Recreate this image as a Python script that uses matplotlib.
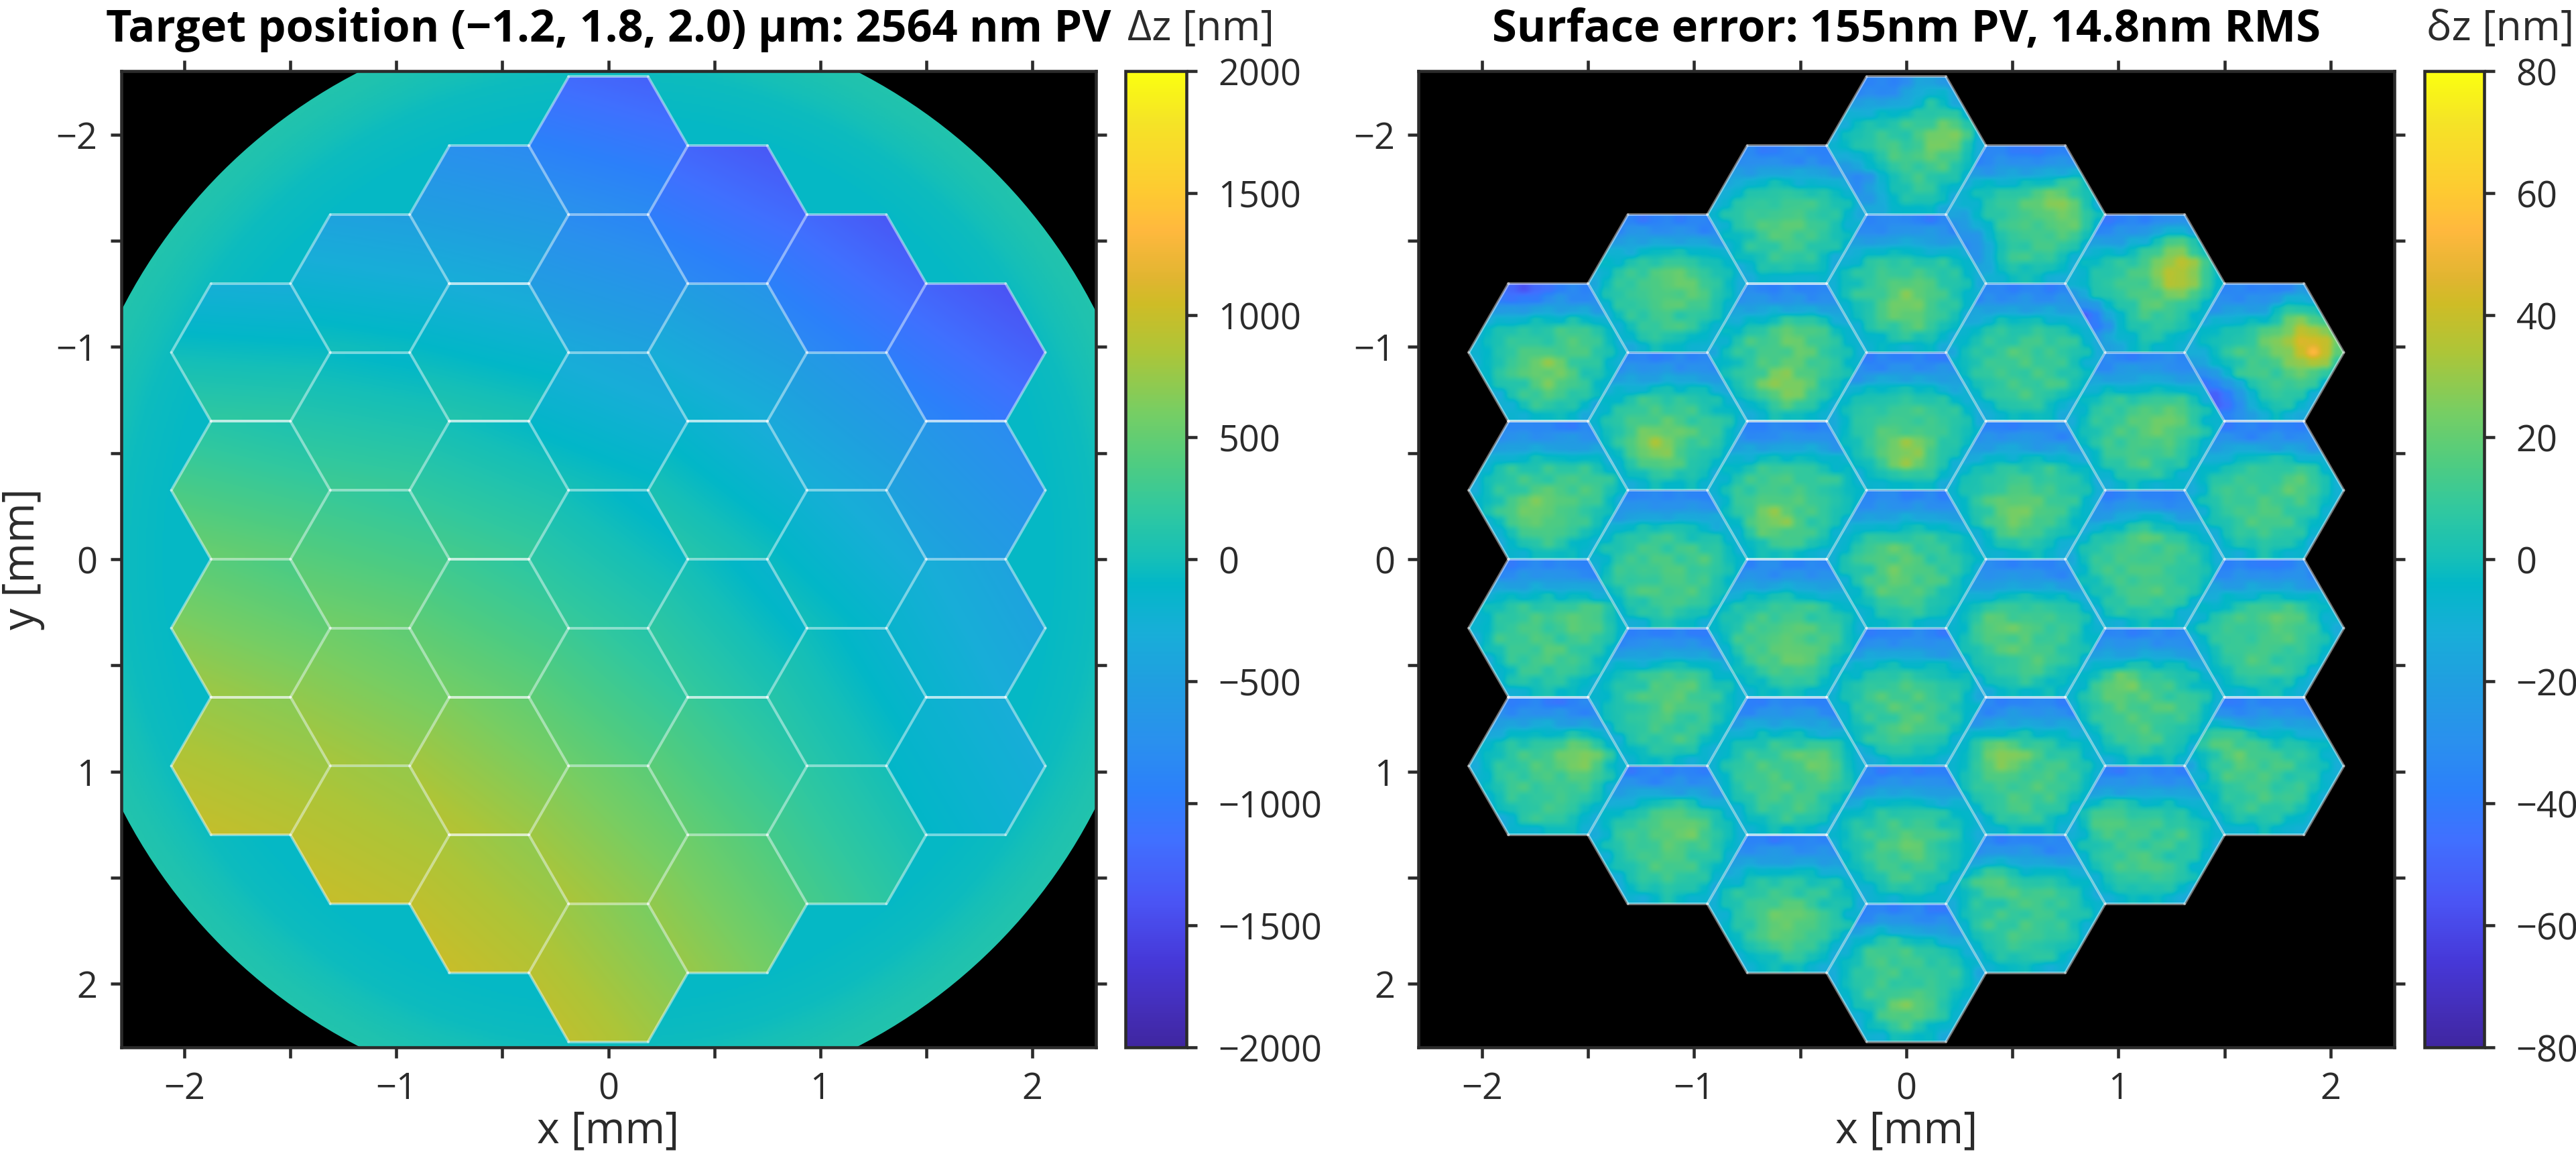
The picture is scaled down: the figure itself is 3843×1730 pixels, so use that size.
import numpy as np
import matplotlib
matplotlib.use("Agg")
import matplotlib.pyplot as plt
from matplotlib.cm import ScalarMappable
from matplotlib.collections import LineCollection
from matplotlib.colors import LinearSegmentedColormap, Normalize
from matplotlib.patches import Circle, Polygon

plt.rcParams['font.family'] = ['Open Sans', 'DejaVu Sans']

# colour bar, (value in -2000..2000, colour)
cmap_values = [-2000, -1850, -1650, -1400, -1150, -950, -750, -500, -300, -100, 0,
               200, 400, 600, 850, 1050, 1150, 1350, 1500, 1800, 2000]
cmap_colors = ['#3f26a0', '#442eb8', '#4638d8', '#4a55f5', '#4070ff', '#2c80fa', '#2a90ee',
               '#209fe0', '#18aed8', '#02b7c8', '#15bfb8', '#30c8a0', '#50cc80', '#76ce64',
               '#adc538', '#cfbc26', '#e0b530', '#ffb83e', '#fec932', '#f5e426', '#fbff10']

# segment layout, columns left to right, rows top to bottom
columns = [-3, -2, -1, 0, 1, 2, 3]
rows_in_column = [4, 5, 6, 7, 6, 5, 4]
hex_a = 0.375  # centre to vertex, mm
hex_h = 0.6495  # flat to flat, mm

# left panel: centre value [nm] and tilt [nm/mm] of each segment
left_centre = [-50, 300, 570, 830,
               -250, 80, 380, 650, 870,
               -550, -130, 120, 380, 700, 860,
               -1000, -620, -200, 50, 330, 650, 780,
               -1100, -420, -100, 30, 300, 570,
               -1100, -500, -200, -30, 170,
               -1150, -600, -300, -200]
left_gy = [700, 600, 500, 350,
           650, 550, 500, 400, 280,
           650, 600, 500, 450, 400, 280,
           700, 650, 500, 400, 400, 350, 280,
           600, 550, 450, 350, 350, 300,
           550, 450, 350, 250, 250,
           550, 350, 200, 150]
left_gx = [-50, -150, -200, -150,
           -100, -100, -150, -200, -150,
           -150, -150, -200, -250, -300, -250,
           -200, -200, -200, -300, -350, -350, -350,
           -300, -300, -350, -400, -400, -400,
           -400, -350, -350, -400, -400,
           -400, -350, -350, -250]

# left panel: ring around the segments, by radius
ring_r = [0.0, 2.1, 2.3, 2.4, 2.5, 2.6]
ring_z = [-80, -80, -40, 15, 70, 100]
ring_radius = 2.58

# right panel: shape shared by all segments, 13x13 over the segment box [nm]
shape_rows = [
    [-38, -38, -38, -38, -38, -38, -38, -38, -38, -38, -38, -38, -38],
    [-36, -36, -34, -33, -32, -31, -30, -31, -32, -33, -34, -36, -36],
    [-26, -25, -24, -22, -20, -19, -19, -19, -20, -22, -24, -25, -26],
    [-16, -14, -12, -9, -6, -5, -4, -5, -6, -9, -12, -14, -16],
    [-12, -8, -3, 2, 4, 5, 6, 5, 4, 2, -3, -8, -12],
    [-12, -5, 2, 6, 8, 9, 9, 9, 8, 6, 2, -5, -12],
    [-12, -3, 4, 7, 9, 10, 10, 10, 9, 7, 4, -3, -12],
    [-12, -4, 4, 7, 9, 10, 11, 10, 9, 7, 4, -4, -12],
    [-13, -6, 2, 7, 9, 10, 11, 10, 9, 7, 2, -6, -13],
    [-14, -10, -2, 5, 8, 10, 11, 10, 8, 5, -2, -10, -14],
    [-16, -14, -8, 1, 6, 8, 9, 8, 6, 1, -8, -14, -16],
    [-18, -17, -13, -6, 0, 3, 5, 3, 0, -6, -13, -17, -18],
    [-20, -20, -17, -12, -8, -5, -4, -5, -8, -12, -17, -20, -20],
]
# small blotches laid over the shape
blotch_rows = [
    [2, -3, 4, 1, -4, 3, -2, 5, -1, -4, 2, 4, -3],
    [-4, 5, -1, -5, 3, 6, -3, 1, 4, -2, -5, 3, 1],
    [3, -2, -5, 4, 1, -4, 5, -3, -1, 6, 2, -4, 0],
    [-1, 4, 2, -3, -6, 2, 3, -5, 4, 1, -3, 5, -2],
    [5, -3, 6, 1, 3, -2, -4, 6, -2, -5, 4, -1, 2],
    [-2, 1, -4, 5, -1, 4, 6, 0, -5, 3, 1, -4, 3],
    [4, -5, 2, -2, 6, -3, 1, -4, 5, 2, -3, 6, -1],
    [0, 3, -3, 5, -4, 1, -6, 4, 2, -2, 5, -3, 1],
    [-3, 6, 1, -1, 3, -5, 2, 5, -3, 4, -1, 2, -4],
    [2, -2, 5, -4, 1, 4, -3, -1, 6, -5, 3, 0, 4],
    [-5, 3, -1, 4, -2, 6, 1, -4, 2, 3, -6, 5, -2],
    [3, 1, -4, 2, 5, -3, 4, 3, -5, 1, 2, -2, 5],
    [-1, -4, 3, 0, -2, 5, -5, 2, 4, -3, 6, 1, -3],
]
right_offset = [1, 2, 2, 1,
                1, 2, 3, 1, 1,
                0, 2, 2, 3, 2, 1,
                0, 1, 1, 2, 1, 0, 0,
                0, 1, 1, 2, 2, 1,
                0, 2, 2, 2, 1,
                0, 1, 1, 0]
# warm and cold patches seen in the right panel: (column, row in column, i, j, nm)
spots = [
    (0, 0, 1, 8, 26), (0, 0, 4, 10, 16), (0, 0, 6, 9, 12), (0, 0, 9, 2, -26), (0, 0, 10, 4, -12),
    (1, 0, 3, 10, 18), (1, 0, 5, 8, 12), (1, 0, 7, 10, 12), (1, 0, 9, 2, -24), (1, 0, 7, 1, -14),
    (2, 0, 2, 9, 30), (2, 0, 5, 10, 24), (2, 0, 6, 8, 16), (2, 0, 3, 7, 12),
    (2, 0, 9, 1, -30), (2, 0, 10, 3, -18),
    (3, 0, 2, 9, 30), (3, 0, 5, 11, 38), (3, 0, 5, 8, 20), (3, 0, 7, 10, 20),
    (3, 0, 10, 2, -34), (3, 0, 11, 4, -24), (3, 0, 8, 1, -18),
    (-3, 0, 8, 6, 12), (-3, 0, 4, 9, 7), (-3, 0, 0, 4, -18),
    (-2, 0, 6, 7, 10), (-1, 0, 7, 6, 5),
    (-1, 1, 9, 6, 16), (-1, 1, 4, 7, 12),
    (0, 1, 8, 6, 12), (0, 2, 9, 6, 18),
    (-2, 1, 8, 5, 16), (-3, 1, 8, 5, 10), (-3, 1, 5, 10, 7),
    (-1, 2, 9, 5, 14), (-3, 2, 5, 10, 12), (-3, 3, 5, 9, 20), (-2, 3, 5, 7, 8), (-2, 4, 5, 7, 14),
    (-1, 3, 8, 7, 7), (-1, 4, 6, 9, 10), (-1, 5, 8, 6, 10),
    (0, 3, 7, 5, 8), (0, 4, 7, 6, 5), (0, 5, 7, 6, 7),
    (0, 6, 3, 4, 12), (0, 6, 10, 6, 10),
    (1, 2, 8, 5, 12), (1, 3, 6, 4, 8), (1, 4, 5, 4, 15), (1, 5, 3, 3, 15),
    (2, 1, 6, 8, 10), (2, 2, 3, 6, 10), (2, 3, 5, 4, 12), (2, 4, 4, 3, 12),
    (3, 1, 5, 9, 8), (3, 2, 5, 8, 8), (3, 3, 3, 2, 18), (3, 3, 5, 4, 8),
]
spot_stamp = [
    [0.1, 0.25, 0.35, 0.25, 0.1],
    [0.25, 0.6, 0.8, 0.6, 0.25],
    [0.35, 0.8, 1.0, 0.8, 0.35],
    [0.25, 0.6, 0.8, 0.6, 0.25],
    [0.1, 0.25, 0.35, 0.25, 0.1],
]

tick_major = [-2, -1, 0, 1, 2]
tick_minor = [-1.5, -0.5, 0.5, 1.5]
left_bar_ticks = [-2000, -1500, -1000, -500, 0, 500, 1000, 1500, 2000]
right_bar_ticks = [-80, -60, -40, -20, 0, 20, 40, 60, 80]

W, H = 3843, 1730
DARK = '#2b2b2b'
LW = 1.1


def px_axes(fig, x0, y0, x1, y1):
    return fig.add_axes([x0 / W, 1 - y1 / H, (x1 - x0) / W, (y1 - y0) / H])


def hex_list():
    out = []
    for c, n in zip(columns, rows_in_column):
        for r in range(n):
            out.append((c, r, c * 1.5 * hex_a, (r - (n - 1) / 2) * hex_h))
    return out


def hex_verts(cx, cy):
    ang = np.radians([0, 60, 120, 180, 240, 300])
    return np.column_stack([cx + hex_a * np.cos(ang), cy + hex_a * np.sin(ang)])


def hex_clip(ax, cx, cy):
    poly = Polygon(hex_verts(cx, cy), closed=True, fc='none', ec='none', transform=ax.transData)
    ax.add_patch(poly)
    return poly


def draw_edges(ax):
    # shared edges only once so they keep the same brightness
    edges = {}
    for c, r, cx, cy in hex_list():
        v = hex_verts(cx, cy)
        for k in range(6):
            p, q = v[k], v[(k + 1) % 6]
            key = tuple(np.round((p + q) / 2, 3) + 0.0)
            edges[key] = (p, q)
    ax.add_collection(LineCollection(list(edges.values()), colors='white', alpha=0.45,
                                     linewidths=0.95, capstyle='round', zorder=3))


def style_axes(ax):
    ax.set_facecolor('black')
    ax.set_xlim(-2.3, 2.3)
    ax.set_ylim(2.3, -2.3)
    ax.set_aspect('auto')
    ax.set_xticks(tick_major)
    ax.set_yticks(tick_major)
    ax.set_xticks(tick_minor, minor=True)
    ax.set_yticks(tick_minor, minor=True)
    ax.tick_params(which='both', direction='out', top=True, right=True, length=3.9, width=LW,
                   color=DARK, labelcolor=DARK, labelsize=13, pad=4.5)
    for s in ax.spines.values():
        s.set_linewidth(LW)
        s.set_color(DARK)
    ax.set_xlabel('x [mm]', fontsize=15.5, color=DARK, labelpad=0.5)


def style_bar(fig, cax, norm, ticks, label, x_label):
    cb = fig.colorbar(ScalarMappable(norm=norm, cmap=cmap), cax=cax, ticks=ticks)
    cb.outline.set_linewidth(LW)
    cb.outline.set_edgecolor(DARK)
    cax.tick_params(direction='out', length=3.9, width=LW, color=DARK, labelcolor=DARK,
                    labelsize=13, pad=7.5)
    fig.text(x_label / W, 1 - 60 / H, label, fontsize=15, color=DARK, ha='left', va='baseline')


stops = [(v + 2000) / 4000 for v in cmap_values]
cmap = LinearSegmentedColormap.from_list('surface', list(zip(stops, cmap_colors)), N=512)
norm_left = Normalize(-2000, 2000)
norm_right = Normalize(-80, 80)

fig = plt.figure(figsize=(W / 300, H / 300), dpi=300)
ax1 = px_axes(fig, 180.5, 106, 1634.6, 1562)
ax2 = px_axes(fig, 2116, 106, 3571.7, 1562)
cax1 = px_axes(fig, 1679, 106, 1770, 1562)
cax2 = px_axes(fig, 3617, 106, 3706, 1562)

# left panel ring
gx, gy = np.meshgrid(np.linspace(-2.7, 2.7, 700), np.linspace(-2.7, 2.7, 700))
ring = np.interp(np.hypot(gx, gy), ring_r, ring_z)
im = ax1.imshow(ring, extent=(-2.7, 2.7, 2.7, -2.7), origin='upper', cmap=cmap, norm=norm_left,
                aspect='auto', interpolation='bilinear')
clip = Circle((0, 0), ring_radius, transform=ax1.transData, fc='none', ec='none')
ax1.add_patch(clip)
im.set_clip_path(clip)

box_x = np.linspace(-hex_a, hex_a, 13)
box_y = np.linspace(-hex_h / 2, hex_h / 2, 13)
shape = np.array(shape_rows, dtype=float)
blotch = np.array(blotch_rows, dtype=float)
stamp = np.array(spot_stamp)

for n, (c, r, cx, cy) in enumerate(hex_list()):
    ext = (cx - hex_a, cx + hex_a, cy + hex_h / 2, cy - hex_h / 2)

    # left: one tilted plane per segment
    lx, ly = np.meshgrid(box_x, box_y)
    plane = left_centre[n] + left_gx[n] * lx + left_gy[n] * ly
    im = ax1.imshow(plane, extent=ext, origin='upper', cmap=cmap, norm=norm_left, aspect='auto',
                    interpolation='bilinear', zorder=1)
    im.set_clip_path(hex_clip(ax1, cx, cy))

    # right: shape + blotches + the patches read for this segment
    b = np.roll(blotch, (3 * n, 5 * n), axis=(0, 1))
    if n % 2:
        b = b[:, ::-1]
    if n % 3 == 0:
        b = b[::-1, :]
    # the reference's blotches run a bit sideways
    b = 0.6 * b + 0.4 * np.roll(b, 1, axis=1)
    z = shape + 1.5 * b + right_offset[n]
    for sc, sr, i, j, amp in spots:
        if sc == c and sr == r:
            i0, i1 = max(i - 2, 0), min(i + 3, 13)
            j0, j1 = max(j - 2, 0), min(j + 3, 13)
            z[i0:i1, j0:j1] += amp * stamp[i0 - i + 2:i1 - i + 2, j0 - j + 2:j1 - j + 2]
    im = ax2.imshow(z, extent=ext, origin='upper', cmap=cmap, norm=norm_right, aspect='auto',
                    interpolation='hanning', zorder=1)
    im.set_clip_path(hex_clip(ax2, cx, cy))

draw_edges(ax1)
draw_edges(ax2)
style_axes(ax1)
style_axes(ax2)
ax1.set_ylabel('y [mm]', fontsize=15.5, color=DARK, labelpad=4)

ax1.set_title('Target position (\u22121.2, 1.8, 2.0) \u03bcm: 2564 nm PV', fontsize=16,
              fontweight='bold', color='black', pad=10.5)
ax2.set_title('Surface error: 155nm PV, 14.8nm RMS', fontsize=16,
              fontweight='bold', color='black', pad=10.5)

style_bar(fig, cax1, norm_left, left_bar_ticks, '\u0394z [nm]', 1682)
style_bar(fig, cax2, norm_right, right_bar_ticks, '\u03b4z [nm]', 3620)

fig.savefig('out.png', dpi=300)
